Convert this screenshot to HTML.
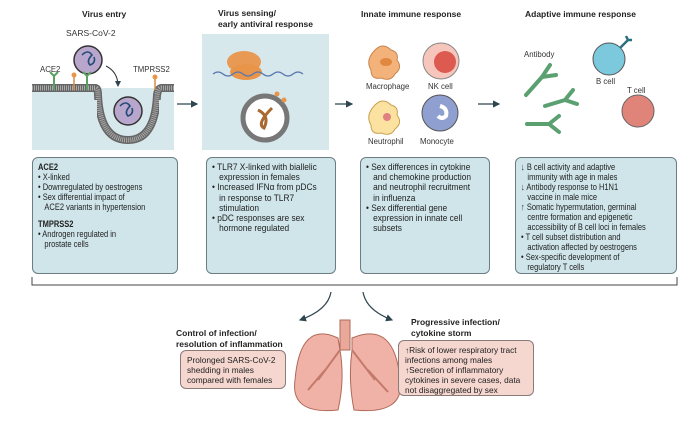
<!DOCTYPE html>
<html><head><meta charset="utf-8"><style>
body{margin:0;width:700px;height:427px;background:#fff;font-family:"Liberation Sans",sans-serif;color:#222;position:relative;overflow:hidden}
.a{position:absolute}
.t{font-weight:bold;font-size:8.5px;line-height:11px}
.box{position:absolute;background:#cfe5ea;border:1px solid #6b7d83;border-radius:6px;box-sizing:border-box;padding:4px 4px 4px 5px;overflow:hidden}
.in{width:125%;transform:scaleX(0.8);transform-origin:0 0;font-size:9.4px;line-height:10px}
.in2{width:112%;transform:scaleX(0.89);transform-origin:0 0;font-size:9.4px;line-height:10.2px}
.box p{margin:0}
.i{padding-left:8px;text-indent:-8px}
.pk{position:absolute;background:#f5d7d0;border:1px solid #8a7a78;border-radius:6px;box-sizing:border-box;font-size:8.3px;line-height:10px;padding:4px 6px}
.lb{position:absolute;font-size:7.8px;color:#333}
</style></head><body>
<div class="a t" style="left:82px;top:9px">Virus entry</div>
<div class="a t" style="left:218px;top:8px">Virus sensing/<br>early antiviral response</div>
<div class="a t" style="left:361px;top:9px">Innate immune response</div>
<div class="a t" style="left:525px;top:9px">Adaptive immune response</div>

<svg class="a" style="left:0;top:0" width="700" height="427">
<defs><marker id="m" markerWidth="6" markerHeight="6" refX="5" refY="3" orient="auto"><path d="M0,0 L6,3 L0,6z" fill="#2f4550"/></marker></defs>
<rect x="32" y="88" width="142" height="62" fill="#d7e8ec"/>
<path d="M32,88 H95 Q98,88 98,95 Q100,140 128,140 Q155,140 157,95 Q158,88 162,88 H174" fill="none" stroke="#666" stroke-width="8"/>
<path d="M32,88 H95 Q98,88 98,95 Q100,140 128,140 Q155,140 157,95 Q158,88 162,88 H174" fill="none" stroke="#aaa" stroke-width="5" stroke-dasharray="1 1"/>
<rect x="32" y="100" width="65" height="50" fill="#d7e8ec"/>
<rect x="159" y="100" width="15" height="50" fill="#d7e8ec"/>
<circle cx="128" cy="111" r="14" fill="#b9a6cc" stroke="#333" stroke-width="1.5"/>
<circle cx="88" cy="60" r="14" fill="#b9a6cc" stroke="#333" stroke-width="1.5"/>
<path d="M82,55 q6,-6 10,0 q-6,6 -2,10 q6,-2 4,-8 M120,106 q6,-6 10,0 q-6,6 -2,10 q6,-2 4,-8" stroke="#244c7a" stroke-width="1.6" fill="none"/>
<path d="M106,66 Q118,72 118,86" stroke="#333" fill="none" marker-end="url(#m)"/>
<path d="M54,76 v14 M50,72 l4,4 l4,-4 M87,76 v14 M83,72 l4,4 l4,-4" stroke="#5aa060" stroke-width="2" fill="none"/>
<path d="M74,76 v14 M155,78 v12" stroke="#d98a40" stroke-width="1.5"/>
<circle cx="74" cy="75" r="2.5" fill="#e8954a"/><circle cx="155" cy="77" r="2.5" fill="#e8954a"/>
<rect x="202" y="34" width="127" height="116" fill="#d7e8ec"/>
<ellipse cx="244" cy="62" rx="17" ry="11" fill="#e89a55"/><ellipse cx="246" cy="72" rx="16" ry="8" fill="#e8954a"/>
<path d="M213,74 q5,-4 10,0 t10,0 t10,0 t10,0 t10,0 t10,0 t10,0 t10,0 t10,0" stroke="#5a78b0" stroke-width="1.3" fill="none"/>
<circle cx="265" cy="118" r="22" fill="#fff" stroke="#777" stroke-width="5"/>
<path d="M258,110 q12,6 6,18 q-8,-4 8,-20" stroke="#a86a30" stroke-width="3" fill="none"/>
<circle cx="277" cy="94" r="2.5" fill="#e8954a"/><circle cx="284" cy="100" r="2.5" fill="#e8954a"/>
<path d="M177,104 H197" stroke="#2f4550" stroke-width="1.2" marker-end="url(#m)"/>
<path d="M335,104 H352" stroke="#2f4550" stroke-width="1.2" marker-end="url(#m)"/>
<path d="M478,104 H499" stroke="#2f4550" stroke-width="1.2" marker-end="url(#m)"/>
<path d="M375,50 q8,-8 16,0 q8,2 6,10 q6,8 -2,14 q-4,8 -14,4 q-10,2 -10,-8 q-6,-10 4,-20z" fill="#f2b27a" stroke="#c88550"/>
<ellipse cx="386" cy="62" rx="6" ry="4" fill="#e08840"/>
<circle cx="441" cy="61" r="18" fill="#f6c6bc" stroke="#888"/><circle cx="445" cy="62" r="11" fill="#dd5a50"/>
<path d="M375,105 q8,-8 16,0 q8,2 6,10 q6,8 -2,14 q-4,8 -14,4 q-10,2 -10,-8 q-6,-10 4,-20z" fill="#fbe2a0" stroke="#c8a050"/>
<circle cx="387" cy="117" r="4" fill="#e08080"/>
<circle cx="440" cy="113" r="18" fill="#8fa0d0" stroke="#555"/><path d="M440,106 q8,2 6,10 q-4,4 -8,0" stroke="#fff" stroke-width="4" fill="none"/>
<circle cx="609" cy="59" r="16" fill="#7cc8dc" stroke="#555"/><path d="M620,48 l8,-8 M626,36 l2,4 l4,0" stroke="#2a7080" stroke-width="2.5" fill="none"/>
<circle cx="638" cy="111" r="16" fill="#e0847a" stroke="#666"/>
<g stroke="#5aa070" stroke-width="4" fill="none" stroke-linecap="round"><path d="M526,95 l16,-18 M542,77 l8,-12 M542,77 l14,-2"/><path d="M545,106 l20,-6 M565,100 l8,-10 M565,100 l12,4"/><path d="M527,124 l22,0 M549,124 l10,-8 M549,124 l10,8"/></g>
<path d="M32,277 V285 H677 V277" stroke="#444" fill="none"/>
<path d="M331,292 Q328,310 300,320" stroke="#2f4550" stroke-width="1.2" fill="none" marker-end="url(#m)"/>
<path d="M363,292 Q366,310 392,320" stroke="#2f4550" stroke-width="1.2" fill="none" marker-end="url(#m)"/>
<rect x="340" y="320" width="10" height="30" fill="#eaa89a" stroke="#b06a5a"/>
<path d="M338,338 Q300,320 295,380 Q290,415 338,410 Q345,380 340,350z" fill="#f0b2a6" stroke="#b06a5a"/>
<path d="M352,338 Q395,320 400,380 Q405,415 354,410 Q348,380 352,350z" fill="#f0b2a6" stroke="#b06a5a"/>
<path d="M340,350 L318,380 M325,370 L308,390 M352,350 L375,380 M368,370 L388,392" stroke="#c47a6a" stroke-width="2"/>
</svg>

<div class="lb" style="left:66px;top:28px;font-size:8.5px">SARS-CoV-2</div>
<div class="lb" style="left:40px;top:65px">ACE2</div>
<div class="lb" style="left:133px;top:65px">TMPRSS2</div>
<div class="lb" style="left:366px;top:82px">Macrophage</div>
<div class="lb" style="left:428px;top:82px">NK cell</div>
<div class="lb" style="left:368px;top:137px">Neutrophil</div>
<div class="lb" style="left:420px;top:137px">Monocyte</div>
<div class="lb" style="left:524px;top:50px">Antibody</div>
<div class="lb" style="left:596px;top:77px">B cell</div>
<div class="lb" style="left:627px;top:86px">T cell</div>

<div class="box" style="left:32px;top:157px;width:146px;height:117px"><div class="in">
<p style="font-weight:bold">ACE2</p><p class="i">• X-linked</p><p class="i">• Downregulated by oestrogens</p><p class="i">• Sex differential impact of<br>ACE2 variants in hypertension</p>
<p style="font-weight:bold;margin-top:7px">TMPRSS2</p><p class="i">• Androgen regulated in<br>prostate cells</p></div></div>
<div class="box" style="left:206px;top:157px;width:130px;height:117px"><div class="in2">
<p class="i">• TLR7 X-linked with biallelic<br>expression in females</p><p class="i">• Increased IFNα from pDCs<br>in response to TLR7<br>stimulation</p><p class="i">• pDC responses are sex<br>hormone regulated</p></div></div>
<div class="box" style="left:360px;top:157px;width:130px;height:117px"><div class="in2">
<p class="i">• Sex differences in cytokine<br>and chemokine production<br>and neutrophil recruitment<br>in influenza</p><p class="i">• Sex differential gene<br>expression in innate cell<br>subsets</p></div></div>
<div class="box" style="left:515px;top:157px;width:162px;height:117px"><div class="in">
<p class="i">↓ B cell activity and adaptive<br>immunity with age in males</p><p class="i">↓ Antibody response to H1N1<br>vaccine in male mice</p><p class="i">↑ Somatic hypermutation, germinal<br>centre formation and epigenetic<br>accessibility of B cell loci in females</p><p class="i">• T cell subset distribution and<br>activation affected by oestrogens</p><p class="i">• Sex-specific development of<br>regulatory T cells</p></div></div>

<div class="a t" style="left:176px;top:328px">Control of infection/<br>resolution of inflammation</div>
<div class="pk" style="left:180px;top:350px;width:106px;height:39px">Prolonged SARS-CoV-2 shedding in males compared with females</div>
<div class="a t" style="left:411px;top:317px">Progressive infection/<br>cytokine storm</div>
<div class="pk" style="left:398px;top:340px;width:136px;height:56px">↑Risk of lower respiratory tract infections among males<br>↑Secretion of inflammatory cytokines in severe cases, data not disaggregated by sex</div>
</body></html>
